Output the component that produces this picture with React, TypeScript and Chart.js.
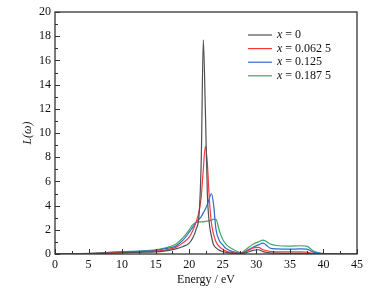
import React, { useEffect, useRef } from "react";
import { Chart, registerables } from "chart.js";

Chart.register(...registerables);

const energy = [0, 2.5, 5, 7.5, 10, 12.5, 15, 16, 17, 18, 19, 20, 20.5, 21, 21.5, 21.8, 22.1, 22.4, 22.7, 23, 23.3, 23.6, 24, 24.5, 25, 25.5, 26, 27, 27.7, 28.5, 29.5, 30.3, 31, 32, 33, 35, 36.5, 37.5, 38.5, 39.5, 41, 43, 45];

const lossX0 = [0, 0, 0.02, 0.05, 0.1, 0.14, 0.18, 0.22, 0.3, 0.42, 0.6, 0.9, 1.3, 2.0, 3.5, 8, 17.7, 12, 5, 2.5, 1.5, 0.8, 0.5, 0.3, 0.2, 0.14, 0.1, 0.06, 0.05, 0.12, 0.3, 0.35, 0.2, 0.1, 0.07, 0.05, 0.05, 0.04, 0.02, 0.01, 0, 0, 0];
const lossX1 = [0, 0, 0.03, 0.08, 0.14, 0.18, 0.24, 0.3, 0.4, 0.55, 0.9, 1.4, 1.9, 2.6, 3.6, 4.8, 7, 8.9, 7.5, 4.5, 2.6, 1.7, 1.0, 0.6, 0.4, 0.25, 0.15, 0.08, 0.05, 0.2, 0.5, 0.55, 0.35, 0.22, 0.18, 0.17, 0.18, 0.15, 0.05, 0.02, 0, 0, 0];
const lossX2 = [0, 0.01, 0.04, 0.1, 0.18, 0.22, 0.3, 0.4, 0.5, 0.65, 1.1, 1.8, 2.2, 2.6, 2.9, 3.1, 3.4, 3.7, 4.1, 4.6, 5.0, 4.2, 2.0, 1.1, 0.75, 0.45, 0.3, 0.12, 0.06, 0.25, 0.55, 0.75, 0.9, 0.5, 0.42, 0.4, 0.42, 0.4, 0.15, 0.05, 0.01, 0, 0];
const lossX3 = [0, 0.01, 0.05, 0.12, 0.2, 0.25, 0.35, 0.45, 0.6, 0.8, 1.3, 2.0, 2.4, 2.6, 2.65, 2.65, 2.65, 2.7, 2.72, 2.75, 2.8, 2.88, 2.85, 1.9, 1.2, 0.8, 0.55, 0.25, 0.1, 0.4, 0.8, 1.0, 1.15, 0.85, 0.7, 0.65, 0.68, 0.65, 0.25, 0.08, 0.02, 0, 0];

const seriesLabels = ["0", "0.062 5", "0.125", "0.187 5"];
const seriesColors = ["#505050", "#f23c3c", "#2b6ccc", "#3fa66c"];
const seriesValues = [lossX0, lossX1, lossX2, lossX3];

const FONT = '"Liberation Serif", "Times New Roman", serif';

const framePlugin = {
  id: "frameTicks",
  afterDraw(chart: any) {
    const { ctx, chartArea } = chart;
    const xs = chart.scales.x;
    const ys = chart.scales.y;
    ctx.save();
    ctx.strokeStyle = "#333";
    ctx.lineWidth = 1.3;
    ctx.strokeRect(chartArea.left, chartArea.top, chartArea.right - chartArea.left, chartArea.bottom - chartArea.top);
    ctx.lineWidth = 1;
    ctx.beginPath();
    for (let v = 0; v <= 45; v += 2.5) {
      const px = Math.round(xs.getPixelForValue(v)) + 0.5;
      const len = v % 5 === 0 ? 5 : 3;
      ctx.moveTo(px, chartArea.bottom);
      ctx.lineTo(px, chartArea.bottom - len);
    }
    for (let v = 0; v <= 20; v += 1) {
      const py = Math.round(ys.getPixelForValue(v)) + 0.5;
      const len = v % 2 === 0 ? 5 : 3;
      ctx.moveTo(chartArea.left, py);
      ctx.lineTo(chartArea.left + len, py);
    }
    ctx.stroke();

    // legend
    const lx0 = chartArea.right - 109;
    const lx1 = chartArea.right - 85;
    const tx = chartArea.right - 80;
    seriesLabels.forEach((lab, i) => {
      const y = chartArea.top + 23 + i * 13.6;
      ctx.strokeStyle = seriesColors[i];
      ctx.lineWidth = 1.2;
      ctx.beginPath();
      ctx.moveTo(lx0, y);
      ctx.lineTo(lx1, y);
      ctx.stroke();
      ctx.fillStyle = "#111";
      ctx.textBaseline = "middle";
      ctx.textAlign = "left";
      ctx.font = "italic 12px " + FONT;
      ctx.fillText("x", tx, y);
      const w = ctx.measureText("x").width;
      ctx.font = "12px " + FONT;
      ctx.fillText(" = " + lab, tx + w, y);
    });
    ctx.restore();
  },
};

export default function App() {
  const ref = useRef<HTMLCanvasElement | null>(null);
  useEffect(() => {
    document.body.style.margin = "0";
    const canvas = ref.current!;
    const chart = new Chart(canvas, {
      type: "line",
      data: {
        datasets: seriesValues.map((vals, i) => ({
          label: "x = " + seriesLabels[i],
          data: energy.map((e, j) => ({ x: e, y: vals[j] })),
          borderColor: seriesColors[i],
          borderWidth: 1.2,
          pointRadius: 0,
          fill: false,
          cubicInterpolationMode: "monotone" as const,
        })),
      },
      options: {
        responsive: false,
        animation: false,
        devicePixelRatio: 1,
        layout: { padding: { left: 17, top: 12, right: 32, bottom: 9 } },
        plugins: { legend: { display: false }, tooltip: { enabled: false } },
        scales: {
          x: {
            type: "linear",
            min: 0,
            max: 45,
            grid: { display: false, drawTicks: false },
            border: { display: false },
            ticks: { stepSize: 5, padding: 4, color: "#111", font: { family: FONT, size: 12 } },
            title: { display: true, text: "Energy / eV", color: "#111", font: { family: FONT, size: 12 }, padding: { top: 2, bottom: 4 } },
            afterFit: (s: any) => { s.height = 37; },
          },
          y: {
            type: "linear",
            min: 0,
            max: 20,
            grid: { display: false, drawTicks: false },
            border: { display: false },
            ticks: { stepSize: 2, padding: 4, color: "#111", font: { family: FONT, size: 12 } },
            title: { display: true, text: "L(ω)", color: "#111", font: { family: FONT, size: 12, style: "italic" }, padding: { top: 4, bottom: 4 } },
            afterFit: (s: any) => { s.width = 38; },
          },
        },
      },
      plugins: [framePlugin],
    });
    return () => chart.destroy();
  }, []);
  return (
    <div style={{ width: 389, height: 300, background: "#fff" }}>
      <canvas ref={ref} width={389} height={300} />
    </div>
  );
}
